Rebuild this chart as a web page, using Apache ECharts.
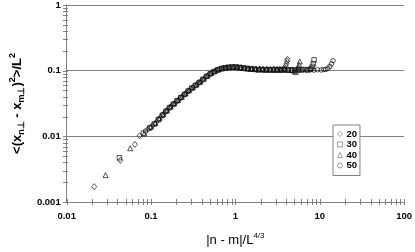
<!DOCTYPE html>
<html>
<head>
<meta charset="utf-8">
<script src="https://cdn.jsdelivr.net/npm/echarts@6/dist/echarts.min.js"></script>
<style>
html,body{margin:0;padding:0;background:#fff;}
#c{width:415px;height:252px;}
</style>
</head>
<body>
<div id="c"></div>
<script>
// ---- data ----
const seriesNames = ['20', '30', '40', '50'];

const x20 = [0.0212, 0.0433, 0.0644, 0.0733, 0.092, 0.105, 0.118, 0.131, 0.145, 0.16, 0.177, 0.196, 0.217, 0.24, 0.265, 0.293, 0.324, 0.358, 0.396, 0.438, 0.484, 0.535, 0.59, 0.65, 0.72, 0.8, 0.88, 0.97, 1.07, 1.18, 1.3, 1.44, 1.6, 1.77, 1.95, 2.15, 2.37, 2.6, 2.85, 3.1, 3.35, 3.6, 3.84, 3.95, 4.03, 4.1, 4.15];
const y20 = [0.00171, 0.0043, 0.00755, 0.0102, 0.0128, 0.0147, 0.0170, 0.0198, 0.0228, 0.0261, 0.0296, 0.0332, 0.0372, 0.0417, 0.0466, 0.0522, 0.0575, 0.0635, 0.0702, 0.0787, 0.0868, 0.0942, 0.1005, 0.1056, 0.1095, 0.1118, 0.1132, 0.1136, 0.1125, 0.1108, 0.109, 0.1072, 0.106, 0.105, 0.1065, 0.104, 0.1055, 0.1038, 0.1062, 0.1036, 0.1058, 0.1045, 0.107, 0.118, 0.128, 0.139, 0.149];

const x30 = [0.0422, 0.0813, 0.096, 0.109, 0.122, 0.136, 0.15, 0.166, 0.184, 0.203, 0.225, 0.249, 0.275, 0.304, 0.336, 0.372, 0.411, 0.455, 0.503, 0.556, 0.615, 0.68, 0.75, 0.83, 0.92, 1.02, 1.13, 1.25, 1.38, 1.53, 1.7, 1.88, 2.08, 2.3, 2.55, 2.82, 3.12, 3.45, 3.8, 4.2, 4.6, 5.05, 5.55, 6.05, 6.6, 7.2, 7.7, 8.0, 8.2, 8.4, 8.57];
const y30 = [0.00471, 0.0112, 0.0134, 0.0154, 0.0179, 0.0209, 0.0240, 0.0274, 0.0309, 0.0347, 0.0388, 0.0436, 0.0489, 0.0543, 0.0597, 0.0660, 0.0733, 0.0817, 0.0895, 0.0965, 0.1025, 0.1075, 0.1105, 0.1122, 0.1134, 0.1132, 0.1118, 0.1098, 0.1078, 0.1062, 0.1052, 0.1030, 0.1042, 0.1022, 0.1035, 0.1020, 0.1034, 0.1018, 0.1038, 0.1025, 0.1032, 0.1020, 0.1034, 0.1025, 0.104, 0.1028, 0.1048, 0.108, 0.116, 0.128, 0.146];

const x40 = [0.0289, 0.0566, 0.083, 0.1, 0.113, 0.126, 0.14, 0.155, 0.171, 0.19, 0.21, 0.232, 0.257, 0.284, 0.314, 0.347, 0.384, 0.424, 0.469, 0.518, 0.573, 0.633, 0.7, 0.775, 0.855, 0.945, 1.045, 1.155, 1.28, 1.41, 1.56, 1.73, 1.91, 2.11, 2.33, 2.58, 2.85, 3.15, 3.48, 3.85, 4.25, 4.65, 5.0, 5.2, 5.4, 5.55, 5.68, 5.81];
const y40 = [0.00257, 0.00659, 0.0110, 0.0140, 0.0160, 0.0188, 0.0218, 0.0250, 0.0284, 0.0320, 0.0358, 0.0401, 0.0450, 0.0506, 0.0558, 0.0616, 0.0680, 0.0758, 0.0842, 0.0920, 0.0985, 0.1045, 0.1085, 0.1112, 0.1128, 0.1136, 0.1128, 0.1112, 0.1094, 0.1076, 0.1062, 0.1052, 0.1045, 0.1058, 0.1036, 0.1050, 0.1034, 0.1052, 0.1034, 0.1048, 0.1028, 0.1022, 0.0985, 0.095, 0.104, 0.113, 0.124, 0.138];

const x50 = [0.086, 0.098, 0.111, 0.124, 0.138, 0.152, 0.168, 0.186, 0.206, 0.228, 0.253, 0.279, 0.309, 0.341, 0.378, 0.418, 0.462, 0.511, 0.565, 0.625, 0.69, 0.765, 0.845, 0.935, 1.035, 1.145, 1.265, 1.4, 1.55, 1.72, 1.9, 2.1, 2.32, 2.57, 2.84, 3.14, 3.47, 3.84, 4.24, 4.69, 5.18, 5.72, 6.32, 6.98, 7.72, 8.53, 9.43, 10.4, 11.2, 11.8, 12.5, 13.2, 13.8, 14.4];
const y50 = [0.0120, 0.0137, 0.0157, 0.0184, 0.0214, 0.0244, 0.0279, 0.0313, 0.0351, 0.0394, 0.0443, 0.0496, 0.0550, 0.0605, 0.0670, 0.0745, 0.0830, 0.0910, 0.0978, 0.1038, 0.1080, 0.1108, 0.1126, 0.1135, 0.1130, 0.1114, 0.1096, 0.1078, 0.1062, 0.1052, 0.1045, 0.1025, 0.1036, 0.1020, 0.1032, 0.1022, 0.1036, 0.1020, 0.1030, 0.1018, 0.1030, 0.1020, 0.1034, 0.1022, 0.1034, 0.1020, 0.1034, 0.1024, 0.104, 0.1045, 0.108, 0.116, 0.127, 0.142];

const xTickLabels = ['0.01', '0.1', '1', '10', '100'];
const yTickLabels = ['0.001', '0.01', '0.1', '1'];
const minorMultipliers = [2, 3, 4, 5, 6, 7, 8, 9];

// ---- build ----
const X_MIN = Number(xTickLabels[0]), X_MAX = Number(xTickLabels[xTickLabels.length - 1]);
const Y_MIN = Number(yTickLabels[0]), Y_MAX = Number(yTickLabels[yTickLabels.length - 1]);

function zip(xs, ys) { return xs.map((x, i) => [x, ys[i]]); }
function labelFor(list) {
  return function (v) {
    for (const s of list) { if (Math.abs(Number(s) - v) / Number(s) < 1e-6) return s; }
    return '';
  };
}
function ticksFor(list, withMinor) {
  const out = [];
  for (let i = 0; i < list.length; i++) {
    const base = Number(list[i]);
    out.push(base);
    if (withMinor && i < list.length - 1) minorMultipliers.forEach(m => out.push(base * m));
  }
  return out;
}

const xTicks = ticksFor(xTickLabels, true);
const yTicks = ticksFor(yTickLabels, true);

const LINE = '#808080';
const MARK = '#111';
const symbols = ['diamond', 'rect', 'triangle', 'circle'];
const sizes = [[5, 6], 4.5, [5, 5], 4.5];
const dataSets = [zip(x20, y20), zip(x30, y30), zip(x40, y40), zip(x50, y50)];

const scatterSeries = seriesNames.map((n, i) => ({
  name: n,
  type: 'scatter',
  data: dataSets[i],
  symbol: symbols[i],
  symbolSize: sizes[i],
  itemStyle: { color: 'rgba(255,255,255,0)', borderColor: MARK, borderWidth: 0.9 },
  emphasis: { disabled: true },
  silent: true,
  z: 5
}));

const xTickSeries = {
  type: 'custom',
  silent: true,
  clip: false,
  data: xTicks.map(v => [v, Y_MIN]),
  renderItem: function (params, api) {
    const p = api.coord([api.value(0), Y_MIN]);
    const x = Math.round(p[0]) + 0.5, y = Math.round(p[1]);
    return { type: 'line', shape: { x1: x, y1: y - 3, x2: x, y2: y + 3 }, style: { stroke: LINE, lineWidth: 1 } };
  },
  z: 3
};
const yTickSeries = {
  type: 'custom',
  silent: true,
  clip: false,
  data: yTicks.map(v => [X_MIN, v]),
  renderItem: function (params, api) {
    const p = api.coord([X_MIN, api.value(1)]);
    const x = Math.round(p[0]), y = Math.round(p[1]) + 0.5;
    return { type: 'line', shape: { x1: x - 4, y1: y, x2: x + 1, y2: y }, style: { stroke: LINE, lineWidth: 1 } };
  },
  z: 3
};

const FONT = '"Liberation Sans", Arial, sans-serif';

const chart = echarts.init(document.getElementById('c'), null, { renderer: 'canvas' });
chart.setOption({
  animation: false,
  backgroundColor: '#fff',
  grid: { left: 50, right: 9, top: 5, bottom: 42, containLabel: false },
  legend: {
    data: seriesNames,
    orient: 'vertical',
    left: 333,
    top: 125,
    itemWidth: 5,
    itemHeight: 5,
    itemGap: 0.5,
    padding: [4, 3, 5, 4],
    backgroundColor: '#fff',
    borderColor: LINE,
    borderWidth: 1,
    borderRadius: 0,
    itemStyle: { color: 'rgba(255,255,255,0)', borderColor: '#666', borderWidth: 0.8 },
    textStyle: { fontFamily: FONT, fontSize: 9.5, fontWeight: 'bold', color: '#000', lineHeight: 8, padding: [0, 0, 0, -1] },
    selectedMode: false,
    z: 10
  },
  xAxis: {
    type: 'log',
    logBase: 10,
    min: X_MIN,
    max: X_MAX,
    axisLine: { show: true, onZero: false, lineStyle: { color: LINE, width: 1 } },
    axisTick: { show: false },
    minorTick: { show: false },
    splitLine: { show: false },
    axisLabel: { formatter: labelFor(xTickLabels), fontFamily: FONT, fontSize: 9.5, fontWeight: 'bold', color: '#000', margin: 9, showMinLabel: true, showMaxLabel: true },
    name: '{a||n - m|/L}{p|4/3}',
    nameLocation: 'middle',
    nameGap: 30,
    nameTextStyle: {
      rich: {
        a: { fontFamily: FONT, fontSize: 13, color: '#000', lineHeight: 15, verticalAlign: 'bottom' },
        p: { fontFamily: FONT, fontSize: 8, color: '#000', lineHeight: 15, verticalAlign: 'top', padding: [0, 0, 6, 0] }
      }
    }
  },
  yAxis: {
    type: 'log',
    logBase: 10,
    min: Y_MIN,
    max: Y_MAX,
    axisLine: { show: true, onZero: false, lineStyle: { color: LINE, width: 1 } },
    axisTick: { show: false },
    minorTick: { show: false },
    splitLine: { show: true, lineStyle: { color: LINE, width: 1 } },
    axisLabel: { formatter: labelFor(yTickLabels), fontFamily: FONT, fontSize: 9.5, fontWeight: 'bold', color: '#000', margin: 6, showMinLabel: true, showMaxLabel: true },
    name: '{a|<(x}{s|n⊥}{a| - x}{s|m⊥}{a|)}{p|2}{a|>/L}{p|2}',
    nameLocation: 'middle',
    nameRotate: 90,
    nameGap: 36,
    nameTextStyle: {
      rich: {
        a: { fontFamily: FONT, fontSize: 13, fontWeight: 'bold', color: '#000', lineHeight: 18, verticalAlign: 'middle' },
        s: { fontFamily: FONT, fontSize: 9, fontWeight: 'bold', color: '#000', lineHeight: 10, verticalAlign: 'bottom' },
        p: { fontFamily: FONT, fontSize: 9, fontWeight: 'bold', color: '#000', lineHeight: 10, verticalAlign: 'top' }
      }
    }
  },
  series: scatterSeries.concat([xTickSeries, yTickSeries])
});
</script>
</body>
</html>
